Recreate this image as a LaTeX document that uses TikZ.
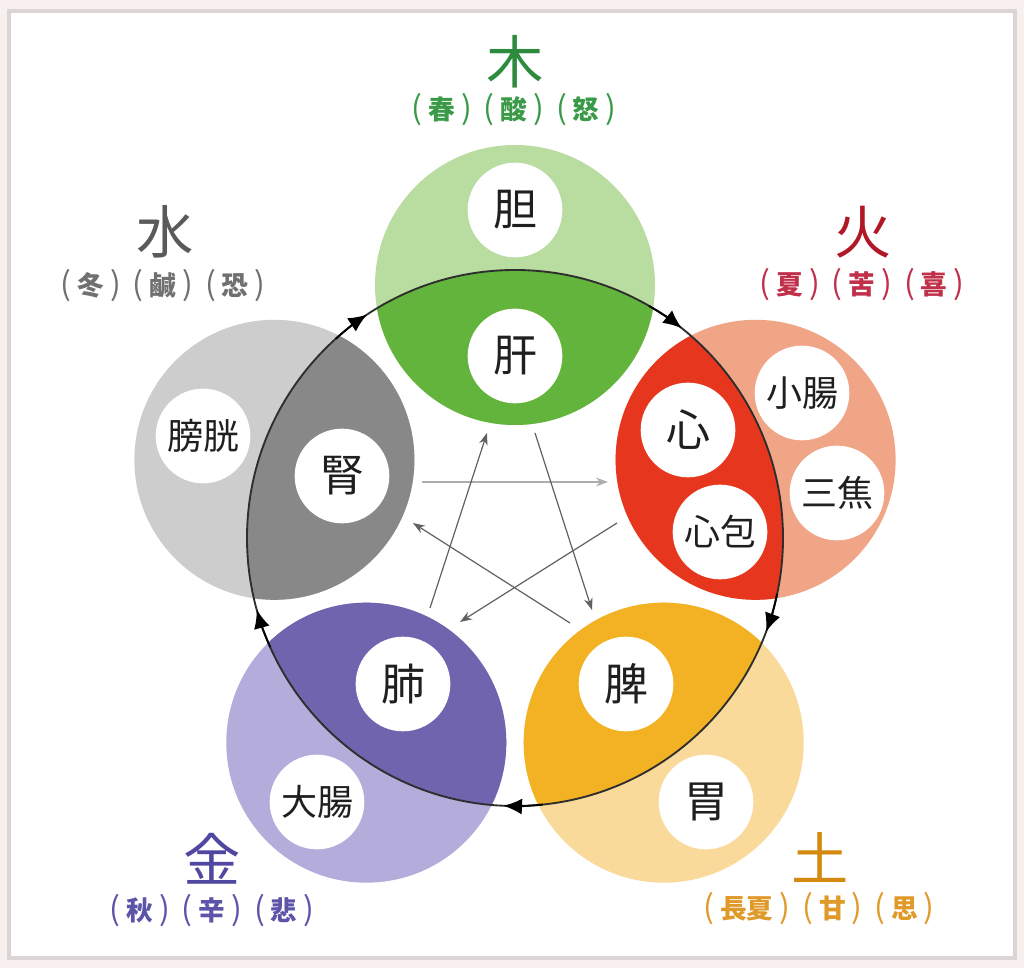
\documentclass[tikz,border=0pt]{standalone}
\usepackage{fontspec}
\newfontfamily\jp{Noto Sans CJK JP}
\usetikzlibrary{arrows.meta,calc}
\definecolor{framebg}{HTML}{F8EFEF}
\definecolor{framegray}{HTML}{DDD5D5}
\definecolor{woodL}{HTML}{B9DCA0}
\definecolor{woodD}{HTML}{62B43C}
\definecolor{fireL}{HTML}{F0A587}
\definecolor{fireD}{HTML}{E6371E}
\definecolor{earthL}{HTML}{FADA9B}
\definecolor{earthD}{HTML}{F2B223}
\definecolor{metalL}{HTML}{B4ACDA}
\definecolor{metalD}{HTML}{7064AF}
\definecolor{waterL}{HTML}{CDCDCD}
\definecolor{waterD}{HTML}{888888}
\definecolor{woodT}{HTML}{2E8B3E}
\definecolor{fireT}{HTML}{B01825}
\definecolor{waterT}{HTML}{5A5A5A}
\definecolor{metalT}{HTML}{5048A0}
\definecolor{earthT}{HTML}{D48A10}
\definecolor{woodS}{HTML}{3A9A48}
\definecolor{fireS}{HTML}{C0304A}
\definecolor{waterS}{HTML}{707070}
\definecolor{metalS}{HTML}{5C54A8}
\definecolor{earthS}{HTML}{E09A2A}
\newcommand\subgrp[1]{{\mdseries\fontsize{24}{24}\selectfont(}\kern4.5pt#1\kern4.5pt{\mdseries\fontsize{24}{24}\selectfont)}}
\newcommand\subgap{\kern9pt}
\begin{document}
\begin{tikzpicture}[x=0.75pt,y=0.75pt,
  elem/.style={circle,inner sep=0pt,minimum size=210pt},
  organ/.style={circle,fill=white,inner sep=0pt,minimum size=71pt,text=black!88,
    font=\jp\fontsize{33}{33}\selectfont},
  organtwo/.style={organ,font=\jp\fontsize{27}{27}\selectfont},
  elab/.style={inner sep=0pt,font=\jp\fontsize{43}{43}\selectfont},
  esub/.style={inner sep=0pt,font=\jp\bfseries\fontsize{20}{20}\selectfont},
  cyc/.style={draw=black!82,line width=1.4pt},
  cyctip/.style={draw=black,line width=1.4pt,-{Latex[length=14pt,width=12pt]}},
  starline/.style={draw=black!62,line width=0.9pt,-{Stealth[length=9pt,width=6.5pt]}},
  starlight/.style={starline,draw=black!32,line width=1.5pt},
]
\useasboundingbox (0,0) rectangle (1024,968);
\fill[framebg] (0,0) rectangle (1024,968);
\draw[framegray,line width=3pt,fill=white] (9,10) rectangle (1015,957);

\coordinate (C) at (515,430);
% element circles
\node[elem,fill=woodL]  (wood)  at ($(C)+(90:253)$) {};
\node[elem,fill=fireL]  (fire)  at ($(C)+(18:253)$) {};
\node[elem,fill=earthL] (earth) at ($(C)+(-54:253)$) {};
\node[elem,fill=metalL] (metal) at ($(C)+(-126:253)$) {};
\node[elem,fill=waterL] (water) at ($(C)+(162:253)$) {};
\begin{scope}
  \clip (C) circle[radius=268];
  \fill[woodD]  (wood.center)  circle[radius=140];
  \fill[fireD]  (fire.center)  circle[radius=140];
  \fill[earthD] (earth.center) circle[radius=140];
  \fill[metalD] (metal.center) circle[radius=140];
  \fill[waterD] (water.center) circle[radius=140];
\end{scope}

% generating cycle
\draw[cyc] (C) circle[radius=268];
\foreach \a in {54,-18,-90,-162,126}{
  \draw[cyctip] ($(C)+(\a+6:268)$) arc[start angle=\a+6,end angle=\a-2.5,radius=268];
}

% organs
\node[organ]    (dan)   at (515,758) {胆};
\node[organ]    (kan)   at (515,612) {肝};
\node[organ]    (shin)  at (688,538) {心};
\node[organtwo] (shinpo) at (720,436) {心包};
\node[organtwo] (shocho) at (802,575) {小腸};
\node[organtwo] (sansho) at (837,475) {三焦};
\node[organtwo] (boko)  at (203,532) {膀胱};
\node[organ]    (jin)   at (342,492) {腎};
\node[organ]    (hai)   at (403,284) {肺};
\node[organtwo] (daicho) at (317,166) {大腸};
\node[organ]    (hi)    at (626,284) {脾};
\node[organ]    (i)     at (706,166) {胃};

% controlling cycle
\coordinate (wS) at (535,535); \coordinate (eE) at (592,358);
\coordinate (aS) at (422,486); \coordinate (fE) at (608,486);
\coordinate (fS) at (617,445); \coordinate (mE) at (460,346);
\coordinate (eS) at (570,345); \coordinate (aE) at (413,445);
\coordinate (mS) at (430,360); \coordinate (wE) at (487,535);
\draw[starlight] (aS) -- (fE);
\draw[starline] (wS) -- (eE);
\draw[starline] (fS) -- (mE);
\draw[starline] (eS) -- (aE);
\draw[starline] (mS) -- (wE);

% labels
\node[elab,text=woodT]  (woodlab)  at (515,906) {木};
\node[esub,text=woodS]  (woodsub)  at (514,858) {\subgrp{春}\subgap\subgrp{酸}\subgap\subgrp{怒}};
\node[elab,text=waterT] (waterlab) at (165,736) {水};
\node[esub,text=waterS] (watersub) at (163,682) {\subgrp{冬}\subgap\subgrp{鹹}\subgap\subgrp{恐}};
\node[elab,text=fireT]  (firelab)  at (863,736) {火};
\node[esub,text=fireS]  (firesub)  at (862,683) {\subgrp{夏}\subgap\subgrp{苦}\subgap\subgrp{喜}};
\node[elab,text=metalT] (metallab) at (212,109) {金};
\node[esub,text=metalS] (metalsub) at (212,57)  {\subgrp{秋}\subgap\subgrp{辛}\subgap\subgrp{悲}};
\node[elab,text=earthT] (earthlab) at (820,110) {土};
\node[esub,text=earthS] (earthsub) at (819,59)  {\subgrp{長夏}\subgap\subgrp{甘}\subgap\subgrp{思}};
\end{tikzpicture}
\end{document}
